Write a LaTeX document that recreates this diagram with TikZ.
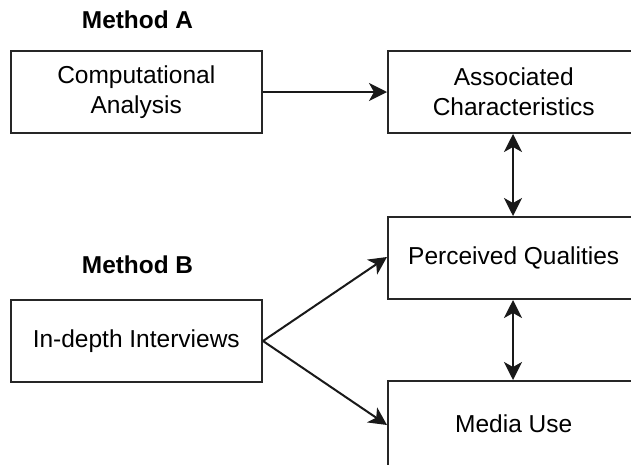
\documentclass[tikz,border=0pt]{standalone}
\usepackage{fontspec}
\setmainfont{Liberation Sans}
\usetikzlibrary{arrows.meta}
\begin{document}
\begin{tikzpicture}[x=1pt,y=-1pt,
  box/.style={draw=black!85, line width=2pt, fill=white, minimum width=251.5pt, minimum height=82pt,
    inner sep=0pt, align=center, font=\fontsize{24.5}{30}\selectfont},
  lbl/.style={font=\bfseries\fontsize{24.4}{29}\selectfont, anchor=base, inner sep=0pt},
  arr/.style={line width=2pt, draw=black!90, -{Stealth[length=18pt,width=18pt,inset=5pt]}},
  darr/.style={line width=2pt, draw=black!90, {Stealth[length=18pt,width=18pt,inset=5pt]}-{Stealth[length=18pt,width=18pt,inset=5pt]}}]
\useasboundingbox (0,0) rectangle (631,464);
\clip (0,0) rectangle (631,464);
\node[lbl] (ma) at (137.5,28) {Method A};
\node[lbl] (mb) at (137.5,273) {Method B};
\node[box] (comp) at (136.25,92) {Computational\\Analysis};
\node[box] (assoc) at (513.75,92) {Associated\\Characteristics};
\node[box] (perc) at (513.75,258) {Perceived Qualities};
\node[box] (inter) at (136.25,341) {In-depth Interviews};
\node[box, minimum height=86pt] (media) at (513.75,424) {Media Use};
\draw[arr] (comp.east) -- (assoc.west);
\draw[darr] ([xshift=-0.75pt]assoc.south) -- ([xshift=-0.75pt]perc.north);
\draw[darr] ([xshift=-0.75pt]perc.south) -- ([xshift=-0.75pt]media.north);
\draw[arr] (inter.east) -- ([yshift=1pt]perc.west);
\draw[arr] (inter.east) -- ([yshift=-1pt]media.west);
\end{tikzpicture}
\end{document}
